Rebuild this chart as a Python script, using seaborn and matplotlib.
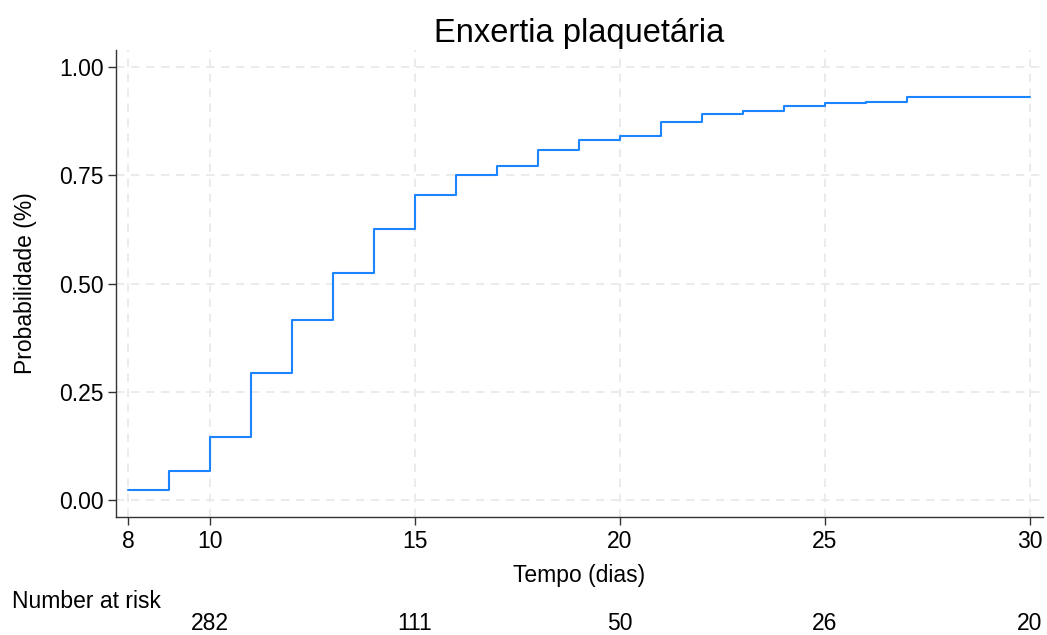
import matplotlib
matplotlib.use("Agg")
import matplotlib.pyplot as plt
import matplotlib.transforms as mtransforms
import seaborn as sns
import pandas as pd

# Kaplan-Meier style cumulative curve
tempo = [8, 9, 10, 11, 12, 13, 14, 15, 16, 17, 18, 19, 20, 21, 22, 23, 24, 25, 26, 27, 30]
prob = [0.023, 0.067, 0.146, 0.294, 0.417, 0.525, 0.626, 0.704, 0.751, 0.771, 0.808,
        0.832, 0.841, 0.872, 0.892, 0.899, 0.909, 0.916, 0.920, 0.930, 0.930]

risk_times = [10, 15, 20, 25, 30]
risk_counts = [282, 111, 50, 26, 20]

x_ticks = [8, 10, 15, 20, 25, 30]
y_ticks = [0.0, 0.25, 0.50, 0.75, 1.00]

df = pd.DataFrame({"tempo": tempo, "prob": prob})

sns.set_style("ticks")
plt.rcParams["font.family"] = ["Liberation Sans", "DejaVu Sans"]
plt.rcParams["text.color"] = "black"
plt.rcParams["axes.labelcolor"] = "black"
plt.rcParams["xtick.color"] = "black"
plt.rcParams["ytick.color"] = "black"

fs = 16.5

fig = plt.figure(figsize=(10.47, 6.35), dpi=100)
ax = fig.add_axes([0.1108, 0.1858, 0.8854, 0.7352])

sns.lineplot(data=df, x="tempo", y="prob", drawstyle="steps-post",
             color="#1a85ff", linewidth=1.5, ax=ax)

ax.set_xlim(7.71, 30.32)
ax.set_ylim(-0.039, 1.039)
ax.set_xticks(x_ticks)
ax.set_yticks(y_ticks)
ax.set_yticklabels([f"{v:.2f}" for v in y_ticks])
ax.tick_params(labelsize=fs, length=6, width=1, color="#333333", pad=3)
ax.grid(True, linestyle=(0, (5, 4)), color="#e8e8e8", linewidth=1.2)
ax.set_axisbelow(True)
sns.despine(ax=ax)
for s in ["left", "bottom"]:
    ax.spines[s].set_color("#333333")
    ax.spines[s].set_linewidth(1)

ax.set_title("Enxertia plaquetária", fontsize=23.5, pad=6)
ax.set_xlabel("Tempo (dias)", fontsize=fs, labelpad=8)
ax.set_ylabel("Probabilidade (%)", fontsize=fs, labelpad=16)

# number at risk table below the axis
trans = mtransforms.blended_transform_factory(ax.transData, fig.transFigure)
fig.text(12 / 1047, 1 - 602 / 635, "Number at risk", fontsize=fs, va="center", ha="left")
for t, n in zip(risk_times, risk_counts):
    ax.text(t, 1 - 623 / 635, str(n), transform=trans, fontsize=fs,
            ha="center", va="center", clip_on=False)

fig.savefig("out.png", dpi=100)
